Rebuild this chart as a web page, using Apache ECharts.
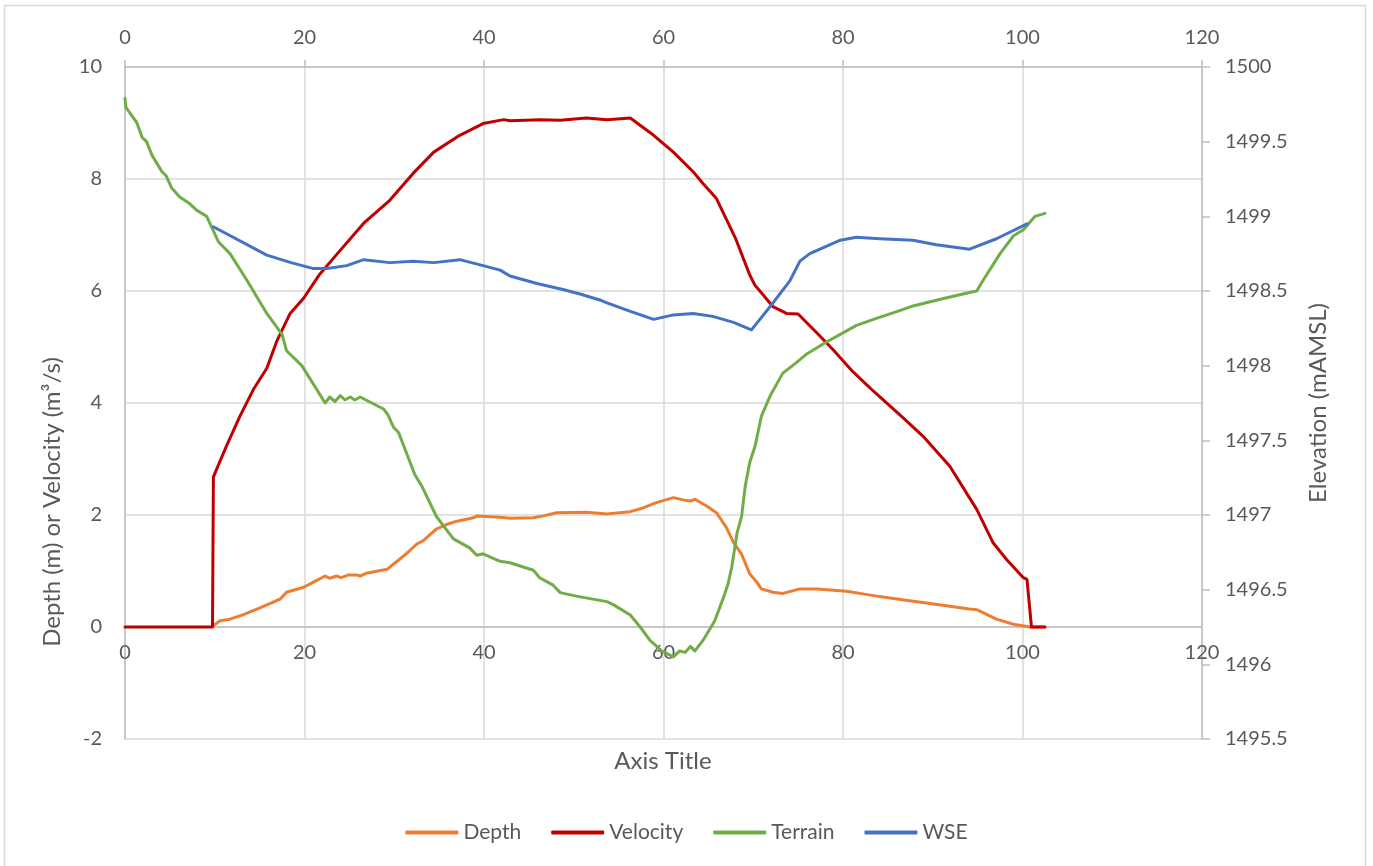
<!DOCTYPE html>
<html>
<head>
<meta charset="utf-8">
<script src="https://cdn.jsdelivr.net/npm/echarts@6/dist/echarts.min.js"></script>
<style>
html,body{margin:0;padding:0;background:#fff;}
#c{width:1373px;height:866px;}
</style>
</head>
<body>
<div id="c"></div>
<script>
// ---- data ----
const xTicks = [0, 20, 40, 60, 80, 100, 120];
const depthTicks = [-2, 0, 2, 4, 6, 8, 10];
const elevTicks = [1495.5, 1496, 1496.5, 1497, 1497.5, 1498, 1498.5, 1499, 1499.5, 1500];

const depthX = [9.8, 10.6, 11.7, 13.2, 14.7, 16.0, 17.3, 18.0, 19.9, 21.0, 22.3, 22.8, 23.6, 24.1, 24.9, 25.8, 26.2, 26.9, 29.2, 29.9, 30.6, 31.5, 32.5, 33.2, 34.7, 35.8, 37.0, 38.8, 39.2, 41.8, 42.9, 45.5, 46.5, 48.1, 51.4, 53.7, 56.3, 57.8, 59.2, 61.1, 62.2, 63.0, 63.5, 64.8, 65.9, 67.0, 67.8, 68.7, 69.6, 70.4, 70.9, 72.2, 73.3, 75.2, 77.1, 80.4, 83.4, 86.4, 90.1, 94.1, 94.9, 97.1, 99.0, 100.8, 102.5];
const depthY = [0.02, 0.11, 0.14, 0.22, 0.32, 0.41, 0.50, 0.62, 0.71, 0.80, 0.91, 0.87, 0.91, 0.88, 0.93, 0.93, 0.91, 0.96, 1.03, 1.12, 1.21, 1.33, 1.48, 1.54, 1.75, 1.83, 1.89, 1.95, 1.98, 1.96, 1.94, 1.95, 1.98, 2.04, 2.05, 2.02, 2.06, 2.13, 2.22, 2.31, 2.27, 2.25, 2.28, 2.16, 2.04, 1.78, 1.51, 1.30, 0.95, 0.80, 0.68, 0.62, 0.60, 0.68, 0.68, 0.64, 0.56, 0.49, 0.41, 0.32, 0.31, 0.14, 0.05, 0, 0];

const velX = [0, 9.75, 9.85, 11.3, 12.8, 14.3, 15.8, 16.9, 18.4, 19.9, 21.7, 24.0, 26.6, 29.5, 32.1, 34.4, 37.3, 39.9, 42.2, 42.9, 46.2, 48.5, 51.4, 53.7, 56.3, 58.9, 61.1, 63.3, 64.4, 65.9, 68.0, 69.6, 70.2, 71.0, 72.2, 73.7, 75.0, 77.1, 78.9, 81.1, 83.4, 86.4, 88.9, 91.9, 94.9, 96.7, 98.2, 100.1, 100.5, 101.0, 102.5];
const velY = [0, 0, 2.68, 3.23, 3.76, 4.24, 4.62, 5.10, 5.60, 5.87, 6.30, 6.73, 7.21, 7.62, 8.10, 8.48, 8.78, 8.99, 9.06, 9.04, 9.06, 9.05, 9.09, 9.06, 9.09, 8.78, 8.48, 8.13, 7.92, 7.65, 6.95, 6.29, 6.10, 5.95, 5.72, 5.60, 5.59, 5.25, 4.95, 4.56, 4.21, 3.78, 3.41, 2.87, 2.10, 1.51, 1.21, 0.88, 0.85, 0, 0];

const terrainX = [0, 0.1, 1.3, 1.9, 2.4, 3.0, 4.1, 4.6, 5.2, 6.1, 7.1, 8.0, 9.1, 9.8, 10.4, 11.7, 13.6, 14.7, 15.8, 17.5, 18.0, 19.7, 22.3, 22.8, 23.4, 24.0, 24.5, 25.1, 25.6, 26.2, 28.8, 29.3, 29.9, 30.5, 31.2, 32.3, 33.1, 34.7, 35.7, 36.6, 38.4, 39.2, 39.9, 41.8, 42.9, 45.5, 46.2, 47.7, 48.5, 50.0, 51.8, 53.7, 54.4, 56.3, 57.4, 58.5, 59.8, 61.1, 61.8, 62.4, 63.0, 63.5, 64.4, 65.7, 66.7, 67.2, 67.6, 68.2, 68.7, 69.1, 69.6, 70.2, 70.9, 71.9, 73.3, 74.8, 76.0, 78.2, 80.0, 81.5, 83.4, 84.9, 86.4, 87.8, 91.2, 94.1, 94.9, 95.6, 97.5, 99.0, 100.1, 101.4, 102.5];
const terrainY = [1499.79, 1499.73, 1499.63, 1499.53, 1499.50, 1499.41, 1499.30, 1499.27, 1499.19, 1499.13, 1499.09, 1499.04, 1499.00, 1498.91, 1498.83, 1498.75, 1498.57, 1498.46, 1498.35, 1498.21, 1498.10, 1498.00, 1497.75, 1497.79, 1497.76, 1497.80, 1497.77, 1497.79, 1497.77, 1497.79, 1497.71, 1497.67, 1497.59, 1497.55, 1497.44, 1497.27, 1497.19, 1496.99, 1496.91, 1496.84, 1496.78, 1496.73, 1496.74, 1496.69, 1496.68, 1496.63, 1496.58, 1496.53, 1496.48, 1496.46, 1496.44, 1496.42, 1496.40, 1496.33, 1496.25, 1496.16, 1496.09, 1496.05, 1496.09, 1496.08, 1496.12, 1496.09, 1496.16, 1496.29, 1496.45, 1496.54, 1496.65, 1496.88, 1496.99, 1497.19, 1497.35, 1497.46, 1497.66, 1497.80, 1497.95, 1498.02, 1498.08, 1498.16, 1498.22, 1498.27, 1498.31, 1498.34, 1498.37, 1498.40, 1498.45, 1498.49, 1498.50, 1498.57, 1498.75, 1498.87, 1498.91, 1499.00, 1499.02];

const wseX = [9.84, 15.8, 18.5, 21.0, 22.5, 24.7, 26.6, 29.5, 32.1, 34.4, 37.3, 39.9, 41.8, 42.9, 45.9, 48.8, 50.7, 52.9, 53.7, 56.0, 58.9, 61.1, 63.3, 65.5, 67.8, 69.8, 72.2, 74.1, 75.2, 76.3, 79.7, 81.5, 84.1, 87.8, 90.4, 94.1, 97.1, 100.5];
const wseY = [1498.93, 1498.74, 1498.69, 1498.65, 1498.65, 1498.67, 1498.71, 1498.69, 1498.70, 1498.69, 1498.71, 1498.67, 1498.64, 1498.60, 1498.55, 1498.51, 1498.48, 1498.44, 1498.42, 1498.37, 1498.31, 1498.34, 1498.35, 1498.33, 1498.29, 1498.24, 1498.42, 1498.57, 1498.70, 1498.75, 1498.84, 1498.86, 1498.85, 1498.84, 1498.81, 1498.78, 1498.85, 1498.95];

const seriesNames = ['Depth', 'Velocity', 'Terrain', 'WSE'];
const seriesColors = ['#ED7D31', '#C00000', '#70AD47', '#4472C4'];
const xTitle = 'Axis Title';
const leftTitle = 'Depth (m) or Velocity (m³/s)';
const rightTitle = 'Elevation (mAMSL)';

// ---- build ----
const zip = (xs, ys) => xs.map((x, i) => [x, ys[i]]);
const FONT = 'Lato, "Noto Sans", sans-serif';
const TXT = '#595959';
const GRID_TOP = 67, GRID_BOTTOM_PX = 739;
// bottom axis sits where the left axis is zero (Excel "crosses at 0")
const zeroOffset = -(GRID_BOTTOM_PX - GRID_TOP) * (0 - depthTicks[0]) / (depthTicks[depthTicks.length - 1] - depthTicks[0]);

const chart = echarts.init(document.getElementById('c'), null, {renderer: 'canvas'});

function lineSeries(i, data, xi, yi) {
  return {
    name: seriesNames[i], type: 'line', data: data,
    xAxisIndex: xi, yAxisIndex: yi,
    symbol: 'none', smooth: false,
    lineStyle: {color: seriesColors[i], width: 3, cap: 'round', join: 'round'},
    itemStyle: {color: seriesColors[i]},
    emphasis: {disabled: true},
    animation: false
  };
}

chart.setOption({
  animation: false,
  backgroundColor: '#fff',
  textStyle: {fontFamily: FONT},
  grid: {left: 125, right: 171, top: GRID_TOP, bottom: 866 - GRID_BOTTOM_PX, containLabel: false},
  xAxis: [
    {
      type: 'value', position: 'bottom', offset: zeroOffset,
      min: xTicks[0], max: xTicks[xTicks.length - 1], interval: xTicks[1] - xTicks[0],
      axisLine: {show: true, onZero: false, lineStyle: {color: '#bfbfbf', width: 1.5}},
      axisTick: {show: false},
      axisLabel: {color: TXT, fontSize: 20, fontFamily: FONT, margin: 16},
      splitLine: {show: true, lineStyle: {color: '#d9d9d9', width: 1.5}}
    },
    {
      type: 'value', position: 'top',
      min: xTicks[0], max: xTicks[xTicks.length - 1], interval: xTicks[1] - xTicks[0],
      axisLine: {show: true, onZero: false, lineStyle: {color: '#bfbfbf', width: 1.5}},
      axisTick: {show: true, inside: false, length: 7, lineStyle: {color: '#bfbfbf', width: 1.5}},
      axisLabel: {color: TXT, fontSize: 20, fontFamily: FONT, margin: 19},
      splitLine: {show: false}
    }
  ],
  yAxis: [
    {
      type: 'value', position: 'left',
      min: depthTicks[0], max: depthTicks[depthTicks.length - 1], interval: depthTicks[1] - depthTicks[0],
      axisLine: {show: true, onZero: false, lineStyle: {color: '#bfbfbf', width: 1.5}},
      axisTick: {show: false},
      axisLabel: {color: TXT, fontSize: 20, fontFamily: FONT, margin: 23},
      splitLine: {show: true, lineStyle: {color: '#d9d9d9', width: 1.5}}
    },
    {
      type: 'value', position: 'right',
      min: elevTicks[0], max: elevTicks[elevTicks.length - 1], interval: elevTicks[1] - elevTicks[0],
      axisLine: {show: true, onZero: false, lineStyle: {color: '#bfbfbf', width: 1.5}},
      axisTick: {show: true, inside: false, length: 8, lineStyle: {color: '#bfbfbf', width: 1.5}},
      axisLabel: {color: TXT, fontSize: 20, fontFamily: FONT, margin: 23,
        formatter: v => String(Math.round(v * 10) / 10)},
      splitLine: {show: false}
    }
  ],
  legend: {
    data: seriesNames,
    left: 'center', top: 817,
    icon: 'roundRect',
    itemWidth: 53, itemHeight: 4, itemGap: 30,
    textStyle: {color: TXT, fontSize: 21, fontFamily: FONT, padding: [0, 0, 0, 0]},
    selectedMode: false
  },
  series: [
    lineSeries(0, zip(depthX, depthY), 0, 0),
    lineSeries(1, zip(velX, velY), 0, 0),
    lineSeries(2, zip(terrainX, terrainY), 1, 1),
    lineSeries(3, zip(wseX, wseY), 1, 1)
  ],
  graphic: [
    {type: 'rect', silent: true, z: -10,
      shape: {x: 4.5, y: 5.5, width: 1361, height: 880},
      style: {fill: 'none', stroke: '#d9d9d9', lineWidth: 1.5}},
    {type: 'text', silent: true, x: 663, y: 761,
      style: {text: xTitle, fill: TXT, font: '24px ' + FONT, align: 'center', verticalAlign: 'middle'}},
    {type: 'text', silent: true, x: 52, y: 502, rotation: Math.PI / 2,
      style: {text: leftTitle, fill: TXT, font: '24px ' + FONT, align: 'center', verticalAlign: 'middle'}},
    {type: 'text', silent: true, x: 1318, y: 403, rotation: Math.PI / 2,
      style: {text: rightTitle, fill: TXT, font: '24px ' + FONT, align: 'center', verticalAlign: 'middle'}}
  ]
});
</script>
</body>
</html>
